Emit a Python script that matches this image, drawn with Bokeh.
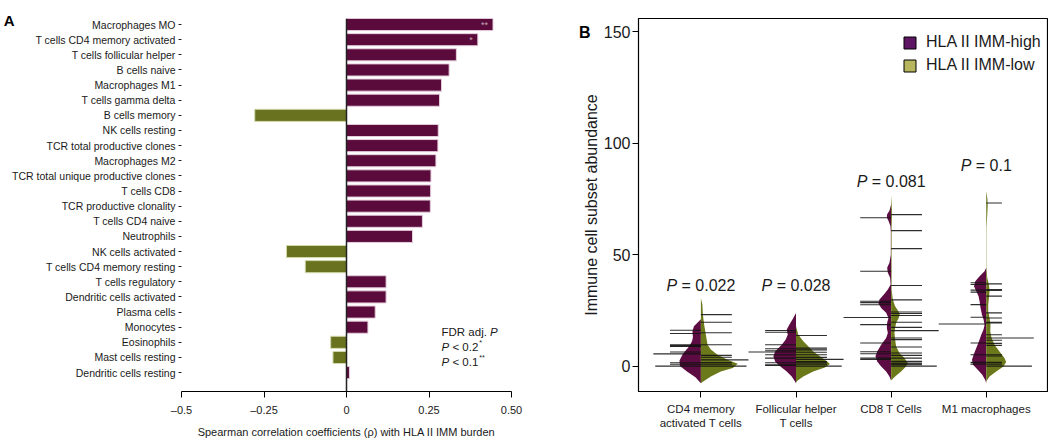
import numpy as np
from bokeh.plotting import figure
from bokeh.models import (Range1d, FixedTicker, Span, Label, Legend, LegendItem,
                          ColumnDataSource, LinearAxis)
from bokeh.layouts import row
from bokeh.embed import file_html
from bokeh.resources import INLINE
from bokeh.core.properties import value

FONT = "Liberation Sans"

# ---------------- Panel A data ----------------
cell_types = [
    "Macrophages MO", "T cells CD4 memory activated", "T cells follicular helper",
    "B cells naive", "Macrophages M1", "T cells gamma delta", "B cells memory",
    "NK cells resting", "TCR total productive clones", "Macrophages M2",
    "TCR total unique productive clones", "T cells CD8", "TCR productive clonality",
    "T cells CD4 naive", "Neutrophils", "NK cells activated",
    "T cells CD4 memory resting", "T cells regulatory", "Dendritic cells activated",
    "Plasma cells", "Monocytes", "Eosinophils", "Mast cells resting",
    "Dendritic cells resting",
]
rho = [0.444, 0.398, 0.333, 0.311, 0.288, 0.282, -0.278, 0.278, 0.277, 0.271,
       0.256, 0.255, 0.254, 0.230, 0.200, -0.182, -0.125, 0.120, 0.120, 0.087,
       0.065, -0.048, -0.041, 0.009]
signif = ["**", "*"] + [""] * 22
x_ticks_a = [-0.5, -0.25, 0, 0.25, 0.5]
x_tick_labels_a = ["\u20130.5", "\u20130.25", "0", "0.25", "0.50"]

# ---------------- Panel B data ----------------
subsets = ["CD4 memory\nactivated T cells", "Follicular helper\nT cells",
           "CD8 T Cells", "M1 macrophages"]
p_values = ["0.022", "0.028", "0.081", "0.1"]
y_ticks_b = [0, 50, 100, 150]

high_obs = [
    [16.1, 14.6, 9.6, 9.2, 8.8, 6.3, 1.5, 0.8, 0, 0, 0],
    [16.0, 15.2, 9.6, 7.8, 6.9, 5.1, 3.6, 1.5, 0.6, 0.3],
    [66.6, 42.6, 29.1, 28.5, 27.5, 18.6, 10.4, 6.45, 5.55, 3.6, 3.0],
    [37.4, 36.6, 34.1, 33.2, 27.6, 21.9, 10.4, 5.1, 1.65, 0.9],
]
low_obs = [
    [23.1, 19.7, 15.0, 9.6, 4.8, 4.0, 1.6, 0.9, 0, 0, 0],
    [13.7, 8.1, 7.7, 7.2, 6.2, 5.1, 3.9, 2.0, 1.5, 0.9, 0, 0, 0],
    [68.0, 60.8, 52.7, 36.2, 29.7, 24.3, 23.6, 22.7, 19.7, 17.4, 12.6, 11.9,
     8.6, 5.9, 4.8, 3.6, 2.1, 1.4, 1.0, 0.6, 0, 0, 0],
    [73.2, 36.9, 34.4, 33.9, 31.4, 23.9, 21.6, 19.7, 19.4, 14.1, 11.6, 10.2,
     9.3, 5.1, 4.5, 1.65, 0.9, 0, 0, 0],
]
high_mean = [5.5, 6.3, 21.8, 18.9]
low_mean = [2.8, 3.0, 15.9, 12.6]

# density outlines (abundance level, relative density)
high_dens_y = [
    [21.0, 19.4, 17.9, 15.5, 13.0, 11.0, 8.5, 5.5, 2.5, 0.0, -2.4, -5.0, -7.7],
    [23.8, 21.6, 18.6, 16.4, 14.1, 11.9, 9.6, 6.6, 4.4, 2.1, -0.1, -2.4, -4.7, -6.9, -7.7],
    [72.5, 69.7, 68.2, 66.7, 65.2, 62.9, 60.0, 50.0, 46.4, 44.1, 41.9, 39.6, 36.6,
     34.4, 32.1, 29.9, 28.1, 26.1, 23.9, 21.6, 19.4, 17.1, 14.9, 12.6, 9.6, 6.6,
     4.4, 2.1, -0.15, -2.4, -4.7, -6.5],
    [44.1, 42.6, 40.3, 38.1, 35.8, 33.6, 31.4, 29.1, 26.1, 23.1, 20.9, 18.6, 16.4,
     14.1, 11.1, 8.1, 5.1, 2.9, 0.6, -1.7, -3.9, -6.2, -7.7],
]
high_dens = [
    [0, 3.5, 7, 8.5, 8, 9, 12.5, 18, 21.5, 21, 14, 5.5, 0],
    [0, 2.7, 6.7, 9.3, 8.3, 10.3, 14.3, 21, 22.7, 21, 16, 9.3, 4.3, 1, 0],
    [0, 1.7, 4, 4.3, 2.7, 0.7, 0.3, 0.3, 1.7, 4, 3.3, 1, 0.5, 3.3, 7.3, 11.7,
     12.7, 10, 5, 2.7, 4, 4.3, 3.3, 5, 10, 14, 15.7, 14, 10, 5, 1.7, 0],
    [0, 1.7, 6.7, 11, 12.3, 10, 7.7, 6.7, 5.7, 4.3, 2.7, 1.7, 2.7, 5, 7.3, 10,
     12.7, 14.3, 13.3, 8.3, 4, 1, 0],
]
low_dens_y = [
    [30.5, 27.6, 23.1, 18.6, 14.1, 9.6, 7.4, 5.1, 2.9, 1.0, -0.9, -2.4, -4.7, -6.9, -7.7],
    [18.0, 14.1, 11.1, 8.9, 6.6, 4.4, 2.1, 0.9, -0.6, -2.4, -4.7, -6.6, -7.5],
    [76.4, 73.4, 68.9, 61.4, 46.4, 34.4, 29.9, 26.9, 24.6, 23.1, 21.2, 19.4, 17.1,
     14.9, 11.9, 8.9, 5.9, 3.6, 1.35, -0.15, -2.4, -4.7, -6.5],
    [78.6, 75.0, 72.0, 68.0, 62.0, 44.0, 39.6, 36.6, 33.6, 30.6, 27.6, 24.6, 21.6,
     18.6, 15.6, 12.6, 9.6, 6.6, 3.6, 1.8, -0.15, -2.4, -4.7, -6.9],
]
low_dens = [
    [0, 1.5, 2, 3.3, 5, 6.7, 10, 16.7, 26.7, 37, 32, 20, 10, 2.3, 0],
    [0, 2.3, 7.3, 12.3, 17.3, 24, 31.3, 34, 29, 17.3, 7.3, 1.3, 0],
    [0, 0.5, 1, 0.5, 0.5, 0.5, 1.7, 4, 7.3, 8.7, 7.3, 5, 4, 3.3, 4, 5, 8.3, 13.3,
     16.7, 15, 10, 4, 0],
    [0, 1.2, 1.5, 1, 0.3, 0.3, 1, 2.7, 3.3, 2.7, 2, 2, 3.3, 4.3, 4, 5.3, 8.3, 13.3,
     18.3, 20, 17.3, 10, 3.3, 0],
]

# ---------------- styles ----------------
PURPLE = "#5a0b3b"
OLIVE = "#69731f"
V_PURPLE = "#5c0c42"
V_OLIVE = "#6c791b"
LEG_PURPLE = "#5e1563"
LEG_OLIVE = "#b7b55d"
TXT = "#1a1a1a"

ARIAL_W = {" ": .278, ".": .278, "=": .584, "<": .584, "P": .667, "F": .611,
           "D": .722, "R": .722, "a": .556, "d": .556, "j": .222, "*": .389}


def tw(s, size):
    return sum(ARIAL_W.get(ch, 0.556) for ch in s) * size


def panel_letter_axis(letter, at, size, standoff):
    """An axis carrying only the panel letter as its single tick label."""
    return LinearAxis(ticker=FixedTicker(ticks=[at]), major_label_overrides={at: letter},
                      axis_line_color=None, major_tick_line_color=None,
                      minor_tick_line_color=None, major_tick_out=0, major_tick_in=0,
                      major_label_standoff=standoff, major_label_text_font=FONT,
                      major_label_text_font_style="bold",
                      major_label_text_font_size=f"{size}px",
                      major_label_text_color="black")


H = 440
TOP, BOTTOM = 18, 49

# ================= Panel A =================
n = len(cell_types)
ypos = list(range(n - 1, -1, -1))
pa = figure(width=572, height=H,
            x_range=Range1d(-0.5, 0.5), y_range=Range1d(-1.25, 23.40),
            min_border_left=180, min_border_right=61, min_border_top=TOP,
            min_border_bottom=BOTTOM, output_backend="svg", toolbar_location=None)
pa.outline_line_color = None
pa.grid.visible = False

src = ColumnDataSource(dict(
    y=ypos, right=rho,
    color=[PURPLE if r > 0 else OLIVE for r in rho],
    edge=["#e6cfdc" if r > 0 else "#d4d9ad" for r in rho],
    star=signif))
pa.hbar(y="y", left=0, right="right", height=0.8, fill_color="color",
        line_color="edge", line_width=1, source=src)
pa.add_layout(Span(location=0, dimension="height", line_color="#222222",
                   line_width=1.5))
pa.text(x="right", y="y", text="star", source=src, text_align="right",
        text_baseline="middle", x_offset=-5, text_font_size="9px",
        text_color="#c6a5b7", text_font=value(FONT))

ya = pa.yaxis[0]
ya.ticker = FixedTicker(ticks=ypos)
ya.major_label_overrides = {y: nm for y, nm in zip(ypos, cell_types)}
ya.axis_line_color = None
ya.major_tick_out = 3
ya.major_tick_in = 0
ya.minor_tick_line_color = None
ya.major_tick_line_color = "#222222"
ya.major_label_standoff = 3
ya.major_label_text_font = FONT
ya.major_label_text_font_size = "10.5px"
ya.major_label_text_color = TXT

xa = pa.xaxis[0]
xa.ticker = FixedTicker(ticks=x_ticks_a)
xa.major_label_overrides = {t: l for t, l in zip(x_ticks_a, x_tick_labels_a)}
xa.axis_line_color = "black"
xa.axis_line_width = 1.2
xa.major_tick_out = 6
xa.major_tick_in = 0
xa.minor_tick_line_color = None
xa.major_label_standoff = 6
xa.major_label_text_font = FONT
xa.major_label_text_font_size = "11px"
xa.major_label_text_color = TXT
xa.axis_label = "Spearman correlation coefficients (\u03c1) with HLA II IMM burden"
xa.axis_label_text_font = FONT
xa.axis_label_text_font_size = "11px"
xa.axis_label_text_font_style = "normal"
xa.axis_label_text_color = TXT
xa.axis_label_standoff = 7

pa.add_layout(panel_letter_axis("A", 23.27, 15, -5), "left")

# key text (FDR adj. P ...)
KX = 0.288
ks = 11.5
key_rows = [2.68, 1.66, 0.67]
pa.add_layout(Label(x=KX, y=key_rows[0], text="FDR adj.", text_font=FONT,
                    text_font_size=f"{ks}px", text_baseline="middle", text_color=TXT))
pa.add_layout(Label(x=KX, y=key_rows[0], text="P", x_offset=tw("FDR adj. ", ks),
                    text_font=FONT, text_font_style="italic", text_font_size=f"{ks}px",
                    text_baseline="middle", text_color=TXT))
for yk, thr, st in [(key_rows[1], "< 0.2", "*"), (key_rows[2], "< 0.1", "**")]:
    pa.add_layout(Label(x=KX, y=yk, text="P", text_font=FONT, text_font_style="italic",
                        text_font_size=f"{ks}px", text_baseline="middle", text_color=TXT))
    pa.add_layout(Label(x=KX, y=yk, text=thr, x_offset=tw("P ", ks), text_font=FONT,
                        text_font_size=f"{ks}px", text_baseline="middle", text_color=TXT))
    pa.add_layout(Label(x=KX, y=yk + 0.3, text=st, x_offset=tw("P " + thr, ks) + 1,
                        text_font=FONT, text_font_size="7px", text_baseline="middle",
                        text_color=TXT))

# ================= Panel B =================
pb = figure(width=476, height=H,
            x_range=Range1d(0.344, 4.644), y_range=Range1d(-11.4, 156),
            min_border_left=66, min_border_right=1, min_border_top=TOP,
            min_border_bottom=BOTTOM, output_backend="svg", toolbar_location=None)
pb.grid.visible = False
pb.outline_line_color = "black"
pb.outline_line_width = 1.2

WSCALE = 1 / 95.5
xs_p, ys_p, col_p = [], [], []
for k in range(len(subsets)):
    c = k + 1
    for dy, dw, side, col in [(high_dens_y[k], high_dens[k], -1, V_PURPLE),
                              (low_dens_y[k], low_dens[k], 1, V_OLIVE)]:
        yv = np.asarray(dy, float)
        wv = np.asarray(dw, float) * WSCALE
        xs_p.append(list(c + side * wv) + [c, c])
        ys_p.append(list(yv) + [yv[-1], yv[0]])
        col_p.append(col)
pb.patches(xs=xs_p, ys=ys_p, fill_color=col_p, line_color=None)

# bean lines
base_len = [0.325, 0.325, 0.325, 0.165]
CAP = 0.48
MEAN_LEN = 0.50
x0s, x1s, ys = [], [], []
for k in range(len(subsets)):
    c = k + 1
    for obs, side in [(high_obs[k], -1), (low_obs[k], 1)]:
        vals, cnts = np.unique(np.asarray(obs, float), return_counts=True)
        for v, cn in zip(vals, cnts):
            L = min(base_len[k] * cn, CAP)
            x0s.append(c)
            x1s.append(c + side * L)
            ys.append(v)
    x0s += [c, c]
    x1s += [c - MEAN_LEN, c + MEAN_LEN]
    ys += [high_mean[k], low_mean[k]]
pb.segment(x0=x0s, y0=ys, x1=x1s, y1=ys, line_color="#111111", line_width=1.1,
           line_alpha=0.88)

# P value labels
p_label_y = [36.3, 36.3, 83.0, 90.2]
PS = 16
for k, (pv, ly) in enumerate(zip(p_values, p_label_y)):
    rest = "= " + pv
    w = tw("P ", PS) + tw(rest, PS)
    pb.add_layout(Label(x=k + 1, y=ly, text="P", x_offset=-w / 2, text_font=FONT,
                        text_font_style="italic", text_font_size=f"{PS}px",
                        text_baseline="middle", text_color=TXT))
    pb.add_layout(Label(x=k + 1, y=ly, text=rest, x_offset=-w / 2 + tw("P ", PS),
                        text_font=FONT, text_font_size=f"{PS}px",
                        text_baseline="middle", text_color=TXT))

yb = pb.yaxis[0]
yb.ticker = FixedTicker(ticks=y_ticks_b)
yb.axis_line_color = "black"
yb.major_tick_out = 6
yb.major_tick_in = 0
yb.minor_tick_line_color = None
yb.major_label_standoff = 2
yb.major_label_text_font = FONT
yb.major_label_text_font_size = "16px"
yb.major_label_text_color = TXT
yb.axis_label = "Immune cell subset abundance"
yb.axis_label_text_font = FONT
yb.axis_label_text_font_size = "16px"
yb.axis_label_text_font_style = "normal"
yb.axis_label_text_color = TXT
yb.axis_label_standoff = 1

xb = pb.xaxis[0]
xb.ticker = FixedTicker(ticks=[1, 2, 3, 4])
xb.major_label_overrides = {i + 1: s for i, s in enumerate(subsets)}
xb.axis_line_color = "black"
xb.major_tick_out = 6
xb.major_tick_in = 0
xb.minor_tick_line_color = None
xb.major_label_standoff = 5
xb.major_label_text_font = FONT
xb.major_label_text_font_size = "11.5px"
xb.major_label_text_color = TXT

pb.add_layout(panel_letter_axis("B", 149.7, 16, -11), "left")

# legend keys (renderers with no visible geometry)
key_src = ColumnDataSource(dict(l=[np.nan], r=[np.nan], t=[np.nan], b=[np.nan]))
r_hi = pb.quad(left="l", right="r", top="t", bottom="b", source=key_src,
               fill_color=LEG_PURPLE, line_color="black", line_width=1)
r_lo = pb.quad(left="l", right="r", top="t", bottom="b", source=key_src,
               fill_color=LEG_OLIVE, line_color="black", line_width=1)
legend = Legend(items=[LegendItem(label="HLA II IMM-high", renderers=[r_hi]),
                       LegendItem(label="HLA II IMM-low", renderers=[r_lo])],
                location=(264, 315.6), padding=0, margin=0, spacing=3,
                glyph_width=15, glyph_height=15, label_height=20,
                label_standoff=9, border_line_color=None,
                background_fill_alpha=0, label_text_font=FONT,
                label_text_font_size="16px", label_text_color=TXT)
pb.add_layout(legend)

layout = row(pa, pb)
open("out.html", "w").write(file_html(layout, INLINE))
